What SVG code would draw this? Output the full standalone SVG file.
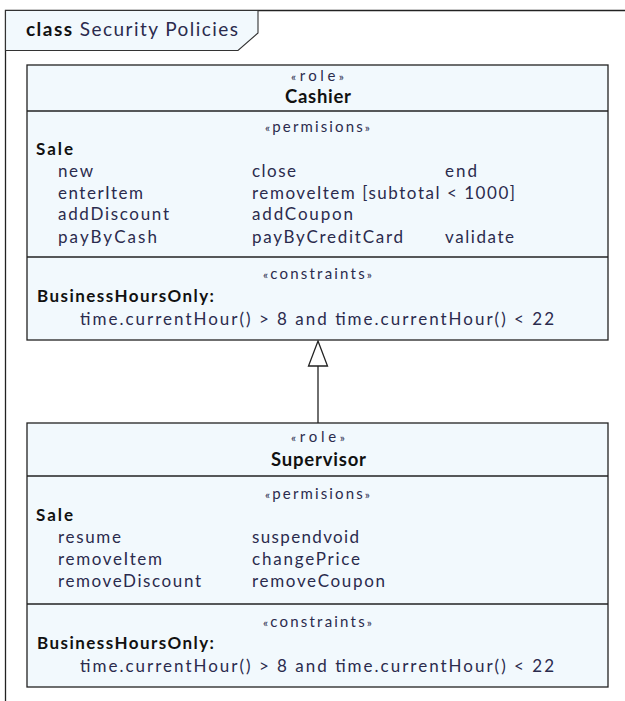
<svg xmlns="http://www.w3.org/2000/svg" width="625" height="701" viewBox="0 0 625 701">
<style>
  .box{fill:#f2f9fd;stroke:#222;stroke-width:1.3}
  .div{stroke:#222;stroke-width:1.3}
  text{font-family:Lato,"Open Sans","Liberation Sans",sans-serif;fill:#2b2b4d}
  .st{font-size:15px}
  .g{font-size:12px}
  .nm{font-size:18.5px;font-weight:bold;fill:#111}
  .hd{font-size:17px;font-weight:bold;fill:#111}
  .it{font-size:17px}
</style>
<rect width="625" height="701" fill="#fff"/>
<!-- frame -->
<g id="frame">
  <path d="M5.5 701 V10.5 H625" fill="none" stroke="#222" stroke-width="1.3"/>
  <path d="M5.5 10.5 H258 V33 L238 50.5 H5.5 Z" fill="#f2f9fd" stroke="#333" stroke-width="1.1"/>
  <text x="26" y="36" style="font-size:19px" textLength="212" lengthAdjust="spacing"><tspan style="font-weight:bold;fill:#111">class</tspan> Security Policies</text>
</g>
<!-- generalization: Supervisor -> Cashier -->
<g id="connectors">
  <line x1="318" y1="423" x2="318" y2="366" stroke="#222" stroke-width="1.3"/>
  <path d="M318 341 L327.5 366 H308.5 Z" fill="#fff" stroke="#222" stroke-width="1.3"/>
</g>
<g id="cashier">
  <rect class="box" x="27" y="65" width="581" height="275"/>
  <line class="div" x1="27" y1="111" x2="608" y2="111"/>
  <line class="div" x1="27" y1="257" x2="608" y2="257"/>
  <text class="st" x="291" y="81" textLength="53" lengthAdjust="spacing"><tspan class="g">«</tspan>role<tspan class="g">»</tspan></text>
  <text class="nm" x="285" y="103" textLength="66" lengthAdjust="spacing">Cashier</text>
  <text class="st" x="265" y="132" textLength="105" lengthAdjust="spacing"><tspan class="g">«</tspan>permisions<tspan class="g">»</tspan></text>
  <text class="hd" x="36" y="155" textLength="37" lengthAdjust="spacing">Sale</text>
  <text class="it" x="58" y="177" textLength="35" lengthAdjust="spacing">new</text>
  <text class="it" x="252" y="177" textLength="44" lengthAdjust="spacing">close</text>
  <text class="it" x="445" y="177" textLength="32" lengthAdjust="spacing">end</text>
  <text class="it" x="58" y="199" textLength="85" lengthAdjust="spacing">enterItem</text>
  <text class="it" x="252" y="199" textLength="263" lengthAdjust="spacing">removeItem [subtotal &lt; 1000]</text>
  <text class="it" x="58" y="220" textLength="111" lengthAdjust="spacing">addDiscount</text>
  <text class="it" x="252" y="220" textLength="101" lengthAdjust="spacing">addCoupon</text>
  <text class="it" x="58" y="243" textLength="99" lengthAdjust="spacing">payByCash</text>
  <text class="it" x="252" y="243" textLength="151" lengthAdjust="spacing">payByCreditCard</text>
  <text class="it" x="445" y="243" textLength="69" lengthAdjust="spacing">validate</text>
  <text class="st" x="263" y="279" textLength="109" lengthAdjust="spacing"><tspan class="g">«</tspan>constraints<tspan class="g">»</tspan></text>
  <text class="hd" x="37" y="302" textLength="177" lengthAdjust="spacing">BusinessHoursOnly:</text>
  <text class="it" x="80" y="325" textLength="474" lengthAdjust="spacing">time.currentHour() &gt; 8 and time.currentHour() &lt; 22</text>
</g>
<g id="supervisor">
  <rect class="box" x="27" y="423" width="581" height="264"/>
  <line class="div" x1="27" y1="476" x2="608" y2="476"/>
  <line class="div" x1="27" y1="604" x2="608" y2="604"/>
  <text class="st" x="291" y="442" textLength="54" lengthAdjust="spacing"><tspan class="g">«</tspan>role<tspan class="g">»</tspan></text>
  <text class="nm" x="271" y="466" textLength="95" lengthAdjust="spacing">Supervisor</text>
  <text class="st" x="265" y="499" textLength="105" lengthAdjust="spacing"><tspan class="g">«</tspan>permisions<tspan class="g">»</tspan></text>
  <text class="hd" x="36" y="521" textLength="37" lengthAdjust="spacing">Sale</text>
  <text class="it" x="58" y="543" textLength="63" lengthAdjust="spacing">resume</text>
  <text class="it" x="252" y="543" textLength="107" lengthAdjust="spacing">suspendvoid</text>
  <text class="it" x="58" y="565" textLength="104" lengthAdjust="spacing">removeItem</text>
  <text class="it" x="252" y="565" textLength="108" lengthAdjust="spacing">changePrice</text>
  <text class="it" x="58" y="587" textLength="143" lengthAdjust="spacing">removeDiscount</text>
  <text class="it" x="252" y="587" textLength="133" lengthAdjust="spacing">removeCoupon</text>
  <text class="st" x="263" y="627" textLength="109" lengthAdjust="spacing"><tspan class="g">«</tspan>constraints<tspan class="g">»</tspan></text>
  <text class="hd" x="37" y="649" textLength="177" lengthAdjust="spacing">BusinessHoursOnly:</text>
  <text class="it" x="80" y="672" textLength="474" lengthAdjust="spacing">time.currentHour() &gt; 8 and time.currentHour() &lt; 22</text>
</g>
</svg>
